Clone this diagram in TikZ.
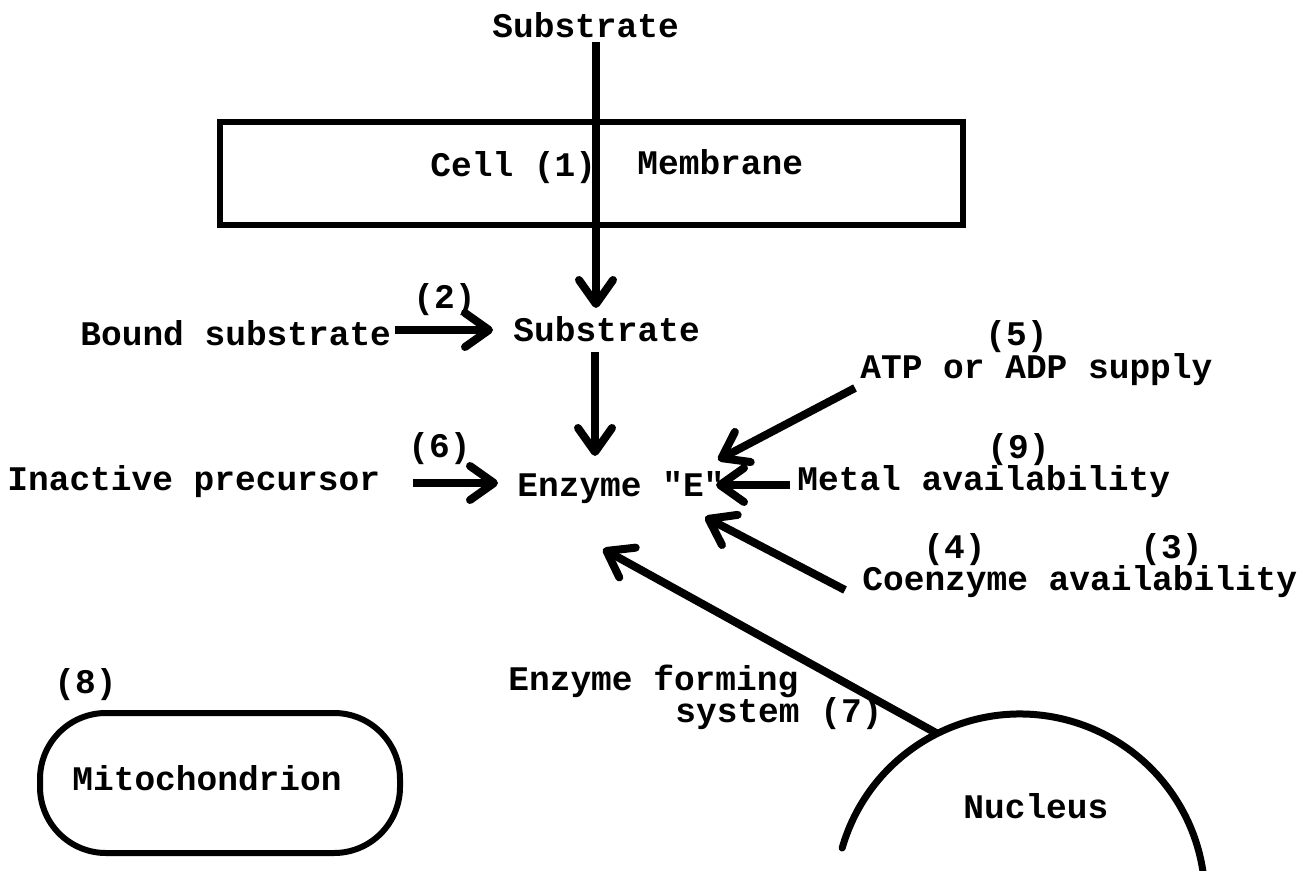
\documentclass[tikz,border=0pt]{standalone}
\usepackage{fontspec}
\setmonofont{Liberation Mono}
\usetikzlibrary{arrows.meta,calc}
\begin{document}
\begin{tikzpicture}[x=0.5pt,y=-0.5pt,
  txt/.style={anchor=base west, inner sep=0pt, font=\ttfamily\bfseries\fontsize{17.25}{20}\selectfont},
  arr/.style={line width=4pt, -{Straight Barb[length=12pt,width=17pt,round]}},
  box/.style={draw, line width=2.8pt, inner sep=0pt}]
\useasboundingbox[fill=white] (0,0) rectangle (1299,871);
% texts
\node[txt] (subtop) at (492,38) {Substrate};
\node[box, minimum width=371.5pt, minimum height=51.5pt] (memb) at (591.5,173.5) {};
\node[txt] (cell) at (430,177) {Cell (1)};
\node[txt] (membtxt) at (637,175) {Membrane};
\node[txt] (p2) at (413,308) {(2)};
\node[txt] (bound) at (80,345) {Bound substrate};
\node[txt] (submid) at (513,342) {Substrate};
\node[txt] (p6) at (408,457) {(6)};
\node[txt] (inact) at (7,490) {Inactive precursor};
\node[txt] (enz) at (517,496) {Enzyme "E"};
\node[txt] (p5) at (985,345) {(5)};
\node[txt] (atp) at (860,378) {ATP or ADP supply};
\node[txt] (p9) at (987,458) {(9)};
\node[txt] (metal) at (797,490) {Metal availability};
\node[txt] (p4) at (923,558) {(4)};
\node[txt] (p3) at (1140,558) {(3)};
\node[txt] (coenz) at (862,590) {Coenzyme availability};
\node[txt] (p8) at (54,693) {(8)};
\node[box, line width=3pt, rounded corners=33pt, minimum width=180pt, minimum height=70pt] (mito) at (220,783) {};
\node[txt] (mitotxt) at (72,790) {Mitochondrion};
\node[txt] (form1) at (508,690) {Enzyme forming};
\node[txt] (form2) at (675,722) {system (7)};
\node[txt] (nuctxt) at (963,818) {Nucleus};
% nucleus arc
\coordinate (nucc) at (1020,899);
\draw[line width=3.5pt, line cap=round] (nucc) ++(196:185) arc[start angle=196, end angle=356, radius=185];
\coordinate (nucout) at ($(nucc)+(243.4:185)$);
% endpoints
\coordinate (subtopfoot) at (596,42);
\coordinate (submidtop) at (596,308);
\coordinate (boundend) at (395,330);
\coordinate (submidleft) at (493,330);
\coordinate (submidfoot) at (595,352);
\coordinate (enztop) at (595,456);
\coordinate (inactend) at (413,483);
\coordinate (enzleft) at (498,483);
\coordinate (atpend) at (855,388);
\coordinate (enzne) at (718,460);
\coordinate (metalend) at (790,485);
\coordinate (enzright) at (716,485);
\coordinate (coenzend) at (845,590);
\coordinate (enzse) at (705,517);
\coordinate (enzsw) at (603,549);
% connectors
\draw[arr] (subtopfoot) -- (submidtop);
\draw[arr] (boundend) -- (submidleft);
\draw[arr] (submidfoot) -- (enztop);
\draw[arr] (inactend) -- (enzleft);
\draw[arr] (atpend) -- (enzne);
\draw[arr] (metalend) -- (enzright);
\draw[arr] (coenzend) -- (enzse);
\draw[arr] (nucout) -- (enzsw);
\end{tikzpicture}
\end{document}
